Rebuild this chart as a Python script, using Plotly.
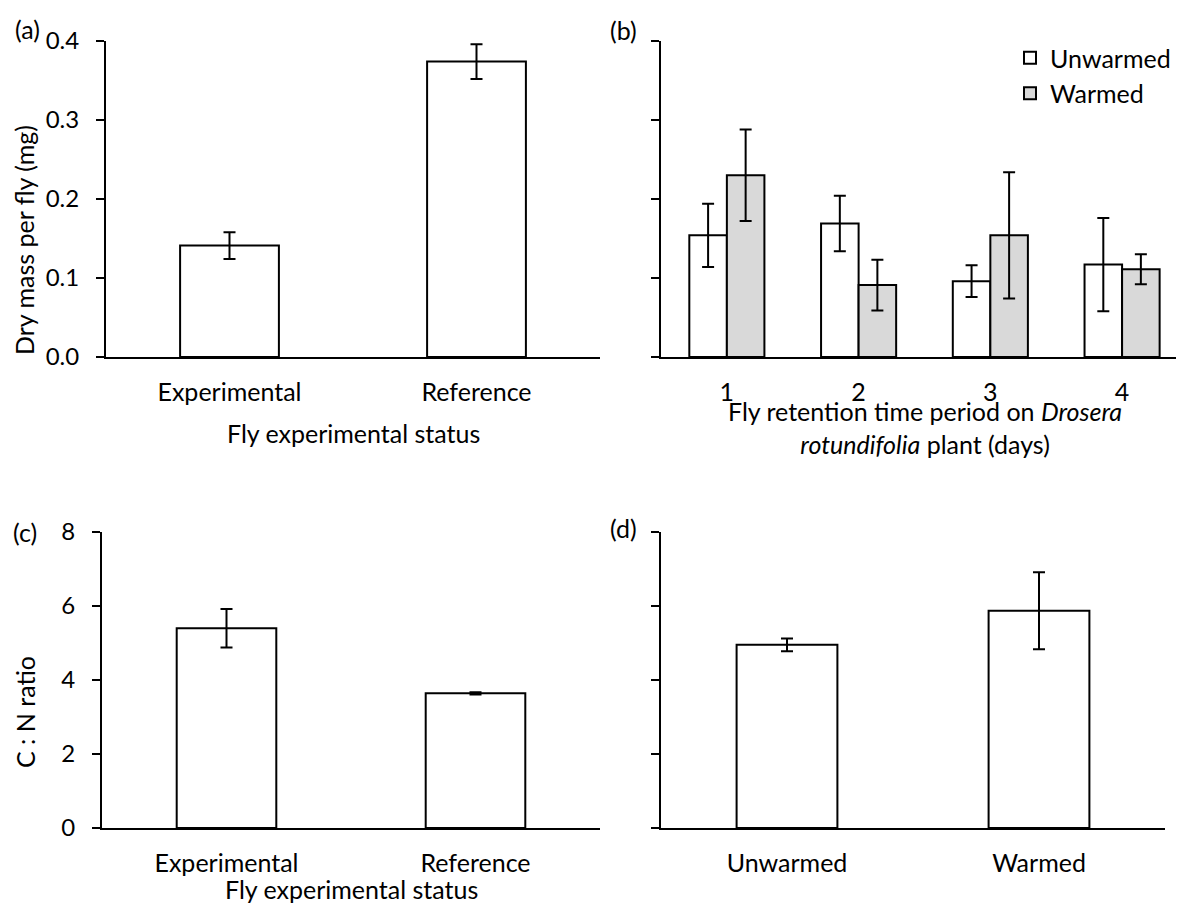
import plotly.graph_objects as go

# (a) dry mass per fly
status_cats = ["Experimental", "Reference"]
mass_mean = [0.141, 0.374]
mass_se = [0.017, 0.022]

# (b) dry mass by retention period
days = ["1", "2", "3", "4"]
unwarmed_mass = [0.154, 0.169, 0.096, 0.117]
unwarmed_mass_se = [0.040, 0.035, 0.020, 0.059]
warmed_mass = [0.230, 0.091, 0.154, 0.111]
warmed_mass_se = [0.058, 0.032, 0.080, 0.019]

# (c) C:N ratio by fly status
cn_status = [5.40, 3.64]
cn_status_se = [0.52, 0.03]

# (d) C:N ratio by treatment
treat_cats = ["Unwarmed", "Warmed"]
cn_treat = [4.95, 5.87]
cn_treat_se = [0.17, 1.04]

# the page body has an 8px margin, so the figure is shrunk by that and
# positions below are given in window pixels
OFF = 8
W, H = 1184 - OFF, 905 - OFF
FONT = "Lato"
FS = 25
TICK_FS = 24


def px_x(p):
    return (p - OFF) / W


def px_y(p):
    return 1 - (p - OFF) / H


bar_line = dict(color="black", width=2)
err = lambda vals: dict(type="data", array=vals, visible=True, color="black", thickness=2, width=6)

fig = go.Figure()

fig.add_trace(go.Bar(x=status_cats, y=mass_mean, error_y=err(mass_se), width=0.4,
                     marker=dict(color="white", line=bar_line), showlegend=False,
                     xaxis="x", yaxis="y"))

fig.add_trace(go.Bar(x=days, y=unwarmed_mass, error_y=err(unwarmed_mass_se), name="Unwarmed",
                     marker=dict(color="white", line=bar_line), xaxis="x2", yaxis="y2"))
fig.add_trace(go.Bar(x=days, y=warmed_mass, error_y=err(warmed_mass_se), name="Warmed",
                     marker=dict(color="#d9d9d9", line=bar_line), xaxis="x2", yaxis="y2"))

fig.add_trace(go.Bar(x=status_cats, y=cn_status, error_y=err(cn_status_se), width=0.4,
                     marker=dict(color="white", line=bar_line), showlegend=False,
                     xaxis="x3", yaxis="y3"))

fig.add_trace(go.Bar(x=treat_cats, y=cn_treat, error_y=err(cn_treat_se), width=0.4,
                     marker=dict(color="white", line=bar_line), showlegend=False,
                     xaxis="x4", yaxis="y4"))

top_row = [px_y(357), px_y(41)]
bot_row = [px_y(828), px_y(532)]

xcommon = dict(type="category", showline=True, linecolor="black", linewidth=2, ticks="",
               showgrid=False, zeroline=False, ticklabelstandoff=12, automargin=False,
               tickfont=dict(family=FONT, size=FS, color="black"))
ycommon = dict(showline=True, linecolor="black", linewidth=2, ticks="outside", ticklen=8,
               tickwidth=2, tickcolor="black", showgrid=False, zeroline=False,
               ticklabelstandoff=12, automargin=False,
               tickfont=dict(family=FONT, size=TICK_FS, color="black"))

fig.update_layout(
    width=W, height=H,
    margin=dict(l=0, r=0, t=0, b=0),
    paper_bgcolor="white", plot_bgcolor="white",
    font=dict(family=FONT, size=FS, color="black"),
    barmode="group", bargap=0.43, bargroupgap=0,
    xaxis=dict(xcommon, domain=[px_x(106), px_x(600)], range=[-0.5, 1.5], anchor="y"),
    yaxis=dict(ycommon, domain=top_row, range=[0, 0.4], tickvals=[0, 0.1, 0.2, 0.3, 0.4],
               tickformat=".1f", anchor="x"),
    xaxis2=dict(xcommon, domain=[px_x(661), 1.0], range=[-0.5, 3.47], anchor="y2"),
    yaxis2=dict(ycommon, domain=top_row, range=[0, 0.4], tickvals=[0, 0.1, 0.2, 0.3, 0.4],
                showticklabels=False, anchor="x2"),
    xaxis3=dict(xcommon, domain=[px_x(102), px_x(600)], range=[-0.5, 1.5], anchor="y3"),
    yaxis3=dict(ycommon, domain=bot_row, range=[0, 8], tickvals=[0, 2, 4, 6, 8], anchor="x3"),
    xaxis4=dict(xcommon, domain=[px_x(661), px_x(1165)], range=[-0.5, 1.5], anchor="y4"),
    yaxis4=dict(ycommon, domain=bot_row, range=[0, 8], tickvals=[0, 2, 4, 6, 8],
                showticklabels=False, anchor="x4"),
    legend=dict(x=px_x(1010), y=px_y(35), xanchor="left", yanchor="top",
                bgcolor="rgba(0,0,0,0)", font=dict(family=FONT, size=FS, color="black"),
                itemclick=False, tracegroupgap=0),
)

notes = [
    ("(a)", 27, 29, 0),
    ("(b)", 623, 30, 0),
    ("(c)", 25, 532, 0),
    ("(d)", 623, 528, 0),
    ("Fly experimental status", 353, 433, 0),
    ("Fly retention time period on <i>Drosera</i><br><i>rotundifolia</i> plant (days)", 925, 427, 0),
    ("Fly experimental status", 351, 889, 0),
    ("Dry mass per fly (mg)", 24, 240, -90),
    ("C : N ratio", 25, 712, -90),
]
for text, x, y, ang in notes:
    fig.add_annotation(text=text, x=px_x(x), y=px_y(y), xref="paper", yref="paper",
                       xanchor="center", yanchor="middle", showarrow=False, textangle=ang,
                       font=dict(family=FONT, size=FS, color="black"))

fig.write_html("out.html")
